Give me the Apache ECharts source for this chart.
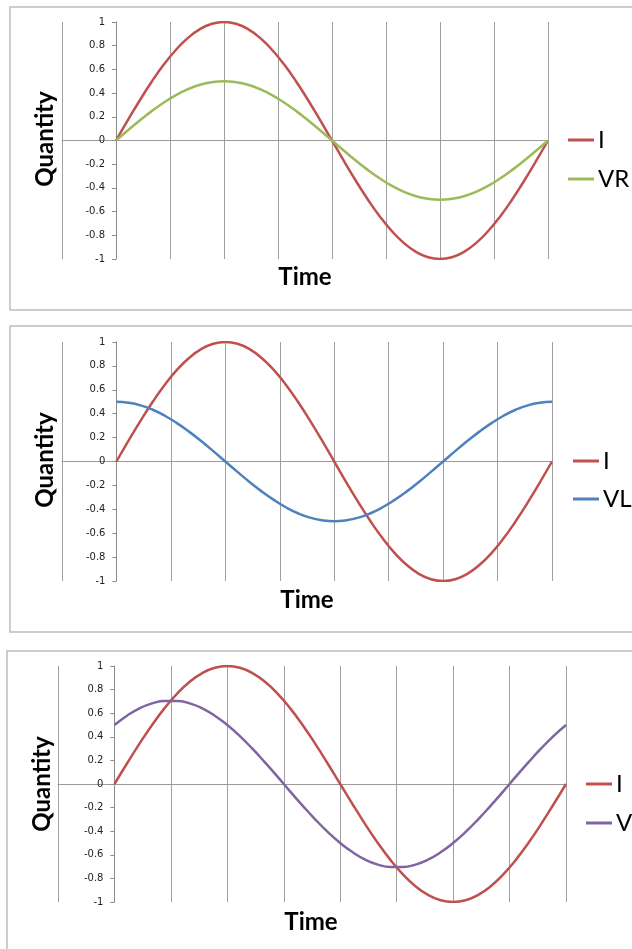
<!DOCTYPE html>
<html>
<head>
<meta charset="utf-8">
<script src="https://cdn.jsdelivr.net/npm/echarts@6/dist/echarts.min.js"></script>
<style>html,body{margin:0;padding:0;background:#fff;}#c{width:632px;height:949px;}</style>
</head>
<body>
<div id="c"></div>
<script>
// Time in degrees
var time = [0,10,20,30,40,50,60,70,80,90,100,110,120,130,140,150,160,170,180,190,200,210,220,230,240,250,260,270,280,290,300,310,320,330,340,350,360];
var I  = [0,0.174,0.342,0.5,0.643,0.766,0.866,0.94,0.985,1,0.985,0.94,0.866,0.766,0.643,0.5,0.342,0.174,0,-0.174,-0.342,-0.5,-0.643,-0.766,-0.866,-0.94,-0.985,-1,-0.985,-0.94,-0.866,-0.766,-0.643,-0.5,-0.342,-0.174,0];
var VR = [0,0.087,0.171,0.25,0.321,0.383,0.433,0.47,0.492,0.5,0.492,0.47,0.433,0.383,0.321,0.25,0.171,0.087,0,-0.087,-0.171,-0.25,-0.321,-0.383,-0.433,-0.47,-0.492,-0.5,-0.492,-0.47,-0.433,-0.383,-0.321,-0.25,-0.171,-0.087,0];
var VL = [0.5,0.492,0.47,0.433,0.383,0.321,0.25,0.171,0.087,0,-0.087,-0.171,-0.25,-0.321,-0.383,-0.433,-0.47,-0.492,-0.5,-0.492,-0.47,-0.433,-0.383,-0.321,-0.25,-0.171,-0.087,0,0.087,0.171,0.25,0.321,0.383,0.433,0.47,0.492,0.5];
var V  = [0.5,0.579,0.641,0.683,0.704,0.704,0.683,0.641,0.579,0.5,0.406,0.299,0.183,0.062,-0.062,-0.183,-0.299,-0.406,-0.5,-0.579,-0.641,-0.683,-0.704,-0.704,-0.683,-0.641,-0.579,-0.5,-0.406,-0.299,-0.183,-0.062,0.062,0.183,0.299,0.406,0.5];
var xAxisTitle = 'Time';
var yAxisTitle = 'Quantity';
var panels = [
  {legend:['I','VR'], series:[['I',I,'#C0504D'],['VR',VR,'#9BBB59']]},
  {legend:['I','VL'], series:[['I',I,'#C0504D'],['VL',VL,'#4F81BD']]},
  {legend:['I','V'],  series:[['I',I,'#C0504D'],['V',V,'#8064A2']]}
];

// layout (pixels)
var grids = [
  {left:62, right:84, top:22, height:237},
  {left:62, right:80, top:342, height:239},
  {left:58, right:66, top:666, height:236}
];
var legendPos = [{left:568, top:128, gap:15},{left:573, top:449, gap:14},{left:586, top:772, gap:15}];
var frames = [{x:10,y:7,w:640,h:303},{x:10,y:326,w:640,h:306},{x:7,y:651,w:640,h:320}];
var timePos = [{x:305,y:277},{x:307,y:600},{x:311,y:922}];
var qtyPos = [{x:45,y:139},{x:45,y:460},{x:42,y:784}];
var W = 632;

function pairs(arr){ return time.map(function(t,i){return [t,arr[i]];}); }

var option = {animation:false, backgroundColor:'#fff', grid:[], xAxis:[], yAxis:[], series:[], legend:[], graphic:[]};
panels.forEach(function(p,k){
  var g = grids[k];
  var plotW = W - g.left - g.right;
  option.grid.push(g);
  option.xAxis.push({type:'value', gridIndex:k, min:-45, max:360, interval:45,
    axisLine:{show:true, onZero:true, lineStyle:{color:'#9a9a9a', width:1}},
    axisTick:{show:false}, axisLabel:{show:false},
    splitLine:{show:true, lineStyle:{color:'#a0a0a0', width:1}}});
  option.yAxis.push({type:'value', gridIndex:k, min:-1, max:1, interval:0.2,
    offset: -plotW/9,
    axisLine:{show:true, onZero:false, lineStyle:{color:'#8a8a8a', width:1}},
    axisTick:{show:true, length:4, lineStyle:{color:'#8a8a8a'}},
    axisLabel:{fontFamily:'DejaVu Sans', fontSize:10, color:'#222', margin:11},
    splitLine:{show:false}});
  p.series.forEach(function(s){
    option.series.push({name:s[0], type:'line', xAxisIndex:k, yAxisIndex:k, data:pairs(s[1]),
      smooth:true, symbol:'none', lineStyle:{color:s[2], width:2.5}, itemStyle:{color:s[2]}});
  });
  option.legend.push({data:p.legend, orient:'vertical', left:legendPos[k].left, top:legendPos[k].top,
    itemGap:legendPos[k].gap, icon:'rect', itemWidth:26, itemHeight:3, padding:0,
    textStyle:{fontFamily:'Lato', fontSize:24, lineHeight:24, color:'#000', padding:[0,0,0,-1]}});
  option.graphic.push({type:'rect', shape:{x:frames[k].x, y:frames[k].y, width:frames[k].w, height:frames[k].h},
    style:{fill:'none', stroke:'#bdbdbd', lineWidth:1.5}, silent:true, z:-10});
  option.graphic.push({type:'text', x:timePos[k].x, y:timePos[k].y,
    style:{text:xAxisTitle, font:'bold 24px Lato', fill:'#000', align:'center', verticalAlign:'middle', textAlign:'center', textVerticalAlign:'middle'}});
  option.graphic.push({type:'text', x:qtyPos[k].x, y:qtyPos[k].y, rotation:Math.PI/2,
    style:{text:yAxisTitle, font:'bold 24px Lato', fill:'#000', align:'center', verticalAlign:'middle', textAlign:'center', textVerticalAlign:'middle'}});
});

var chart = echarts.init(document.getElementById('c'));
chart.setOption(option);
</script>
</body>
</html>
